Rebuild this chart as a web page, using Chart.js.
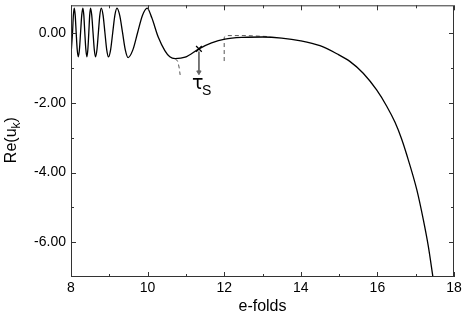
<!DOCTYPE html>
<html>
<head>
<meta charset="utf-8">
<script src="https://cdn.jsdelivr.net/npm/chart.js@4/dist/chart.umd.min.js"></script>
<style>
  html, body { margin: 0; padding: 0; background: #fff; }
</style>
</head>
<body>
<canvas id="grafico" width="465" height="313"></canvas>
<script>
// Curva principal Re(u_k) x e-folds
const efolds = [
  8.00, 8.04, 8.062, 8.085, 8.11, 8.135, 8.162, 8.19, 8.22, 8.25,
  8.28, 8.31, 8.335, 8.36, 8.388, 8.415, 8.44, 8.465, 8.488, 8.51,
  8.542, 8.575, 8.608, 8.64, 8.678, 8.715, 8.752, 8.79, 8.838, 8.885,
  8.932, 8.98, 9.035, 9.09, 9.145, 9.20, 9.272, 9.345, 9.418, 9.49,
  9.615, 9.74, 9.865, 9.99, 10.11, 10.28, 10.45, 10.58, 10.72, 10.98,
  11.34, 11.67, 12.02, 12.50, 13.00, 13.50, 14.00, 14.50, 14.94, 15.28,
  15.63, 15.98, 16.24, 16.46, 16.63, 16.76, 17.03, 17.20, 17.33, 17.45
];
const reU = [
  -0.62, 0.02, 0.51, 0.72, 0.51, 0.02, -0.47, -0.68, -0.47, 0.02,
  0.51, 0.72, 0.51, 0.02, -0.47, -0.68, -0.47, 0.02, 0.51, 0.72,
  0.51, 0.02, -0.47, -0.68, -0.47, 0.02, 0.51, 0.72, 0.51, 0.02,
  -0.47, -0.68, -0.47, 0.02, 0.51, 0.72, 0.51, 0.02, -0.48, -0.70,
  -0.48, 0.02, 0.51, 0.72, 0.44, -0.12, -0.50, -0.68, -0.73, -0.69,
  -0.45, -0.28, -0.17, -0.12, -0.11, -0.14, -0.22, -0.36, -0.59, -0.81,
  -1.15, -1.63, -2.09, -2.56, -3.03, -3.47, -4.50, -5.36, -6.12, -7.00
];

// Trechos tracejados
const dashAX = [10.72, 10.78, 10.82, 10.85];
const dashAY = [-0.73, -0.80, -0.97, -1.20];
const dashBX = [12.00, 12.00, 12.05, 12.60, 13.20];
const dashBY = [-0.80, -0.12, -0.07, -0.07, -0.10];

// Marcador tau_S e seta
const tauX = [11.34];
const tauY = [-0.45];
const arrowX = [11.34, 11.34];
const arrowY = [-0.53, -1.12];

// Eixos
const xTicks = [8, 10, 12, 14, 16, 18];
const xTickLabels = ["8", "10", "12", "14", "16", "18"];
const xMinor = [9, 11, 13, 15, 17];
const yTicks = [0, -2, -4, -6];
const yTickLabels = ["0.00", "-2.00", "-4.00", "-6.00"];
const yMinor = [-1, -3, -5];

const pts = (xs, ys) => xs.map((x, i) => ({ x, y: ys[i] }));

Chart.defaults.font.family = "'Liberation Sans', Arial, sans-serif";
Chart.defaults.font.size = 14;
Chart.defaults.color = "#000";

// Moldura, marcas internas e títulos
const moldura = {
  id: "moldura",
  afterDraw(chart) {
    const { ctx, chartArea: a, scales: { x, y } } = chart;
    ctx.save();
    ctx.strokeStyle = "#333";
    ctx.lineWidth = 1;
    ctx.strokeRect(a.left + 0.5, a.top + 0.5, a.right - a.left - 1, a.bottom - a.top - 1);

    ctx.beginPath();
    const tickX = (v, len) => {
      const p = Math.round(x.getPixelForValue(v)) + 0.5;
      ctx.moveTo(p, a.bottom); ctx.lineTo(p, a.bottom - len);
      ctx.moveTo(p, a.top); ctx.lineTo(p, a.top + len);
    };
    const tickY = (v, len) => {
      const p = Math.round(y.getPixelForValue(v)) + 0.5;
      ctx.moveTo(a.left, p); ctx.lineTo(a.left + len, p);
      ctx.moveTo(a.right, p); ctx.lineTo(a.right - len, p);
    };
    xTicks.forEach((v) => tickX(v, 5));
    xMinor.forEach((v) => tickX(v, 3));
    yTicks.forEach((v) => tickY(v, 5));
    yMinor.forEach((v) => tickY(v, 3));
    ctx.stroke();

    ctx.fillStyle = "#000";
    ctx.font = "16px 'Liberation Sans', Arial, sans-serif";
    ctx.textAlign = "center";
    ctx.textBaseline = "alphabetic";
    ctx.fillText("e-folds", (a.left + a.right) / 2, 311);

    // Re(u_k) rotacionado
    ctx.save();
    ctx.translate(16, (a.top + a.bottom) / 2 - 1);
    ctx.rotate(-Math.PI / 2);
    ctx.textAlign = "left";
    const big = "16px 'Liberation Sans', Arial, sans-serif";
    const small = "12px 'Liberation Sans', Arial, sans-serif";
    ctx.font = big; const w1 = ctx.measureText("Re(u").width; const w3 = ctx.measureText(")").width;
    ctx.font = small; const w2 = ctx.measureText("k").width;
    let s = -(w1 + w2 + w3) / 2;
    ctx.font = big; ctx.fillText("Re(u", s, 0);
    ctx.font = small; ctx.fillText("k", s + w1, 4);
    ctx.font = big; ctx.fillText(")", s + w1 + w2, 0);
    ctx.restore();

    // rótulo tau_S
    const px = x.getPixelForValue(tauX[0]);
    const py = y.getPixelForValue(tauY[0]);
    ctx.textAlign = "left";
    ctx.font = "19px 'DejaVu Sans', sans-serif";
    ctx.fillText("τ", px - 7, py + 40);
    ctx.font = "14px 'Liberation Sans', Arial, sans-serif";
    ctx.fillText("S", px + 3, py + 46);
    ctx.restore();
  },
};

new Chart(document.getElementById("grafico"), {
  type: "scatter",
  data: {
    datasets: [
      {
        data: pts(efolds, reU),
        showLine: true,
        borderColor: "#000",
        borderWidth: 1.3,
        pointRadius: 0,
        cubicInterpolationMode: "monotone",
      },
      {
        data: pts(dashAX, dashAY),
        showLine: true,
        borderColor: "#555",
        borderWidth: 1,
        borderDash: [4, 3],
        pointRadius: 0,
        tension: 0.3,
      },
      {
        data: pts(dashBX, dashBY),
        showLine: true,
        borderColor: "#555",
        borderWidth: 1,
        borderDash: [4, 3],
        pointRadius: 0,
        tension: 0,
      },
      {
        data: pts(arrowX, arrowY),
        showLine: true,
        borderColor: "#666",
        backgroundColor: "#666",
        borderWidth: 1,
        pointRadius: [0, 2.5],
        pointStyle: "triangle",
        rotation: 180,
      },
      {
        data: pts(tauX, tauY),
        borderColor: "#000",
        borderWidth: 1.3,
        pointRadius: 4,
        pointStyle: "crossRot",
      },
    ],
  },
  options: {
    responsive: false,
    animation: false,
    layout: { padding: { left: 0, right: 11, top: 1, bottom: 0 } },
    plugins: { legend: { display: false }, tooltip: { enabled: false } },
    scales: {
      x: {
        type: "linear",
        min: 8,
        max: 18,
        grid: { display: false, drawTicks: false },
        border: { display: false },
        afterBuildTicks: (s) => { s.ticks = xTicks.map((v) => ({ value: v })); },
        ticks: {
          padding: 3,
          maxRotation: 0,
          callback: (v, i) => xTickLabels[i],
        },
        afterFit: (s) => { s.height = 36; s.paddingLeft = 0; s.paddingRight = 0; },
      },
      y: {
        type: "linear",
        min: -7,
        max: 0.8,
        grid: { display: false, drawTicks: false },
        border: { display: false },
        afterBuildTicks: (s) => { s.ticks = yTicks.map((v) => ({ value: v })); },
        ticks: {
          padding: 5,
          callback: (v, i) => yTickLabels[i],
        },
        afterFit: (s) => { s.width = 71; s.paddingTop = 0; s.paddingBottom = 0; },
      },
    },
  },
  plugins: [moldura],
});
</script>
</body>
</html>
